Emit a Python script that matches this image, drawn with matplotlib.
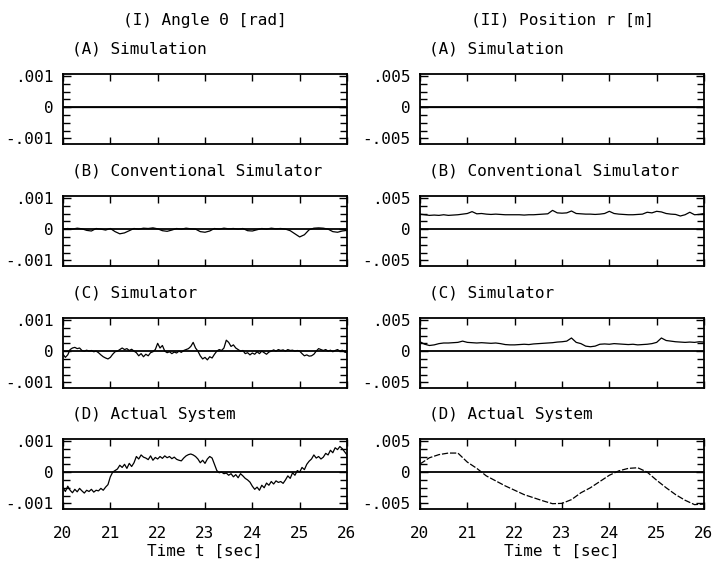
import numpy as np
import matplotlib.pyplot as plt
from matplotlib.ticker import MultipleLocator

plt.rcParams['font.family'] = ['DejaVu Sans Mono', 'DejaVu Sans']
plt.rcParams['font.size'] = 11.5

# ---- data, theta in 1e-3 rad, r in 1e-3 m ----
col_titles = ["(I) Angle \u0398 [rad]", "(II) Position r [m]"]
row_titles = ["(A) Simulation", "(B) Conventional Simulator",
              "(C) Simulator", "(D) Actual System"]
x_ticks = [20, 21, 22, 23, 24, 25, 26]
theta_ticklabels = ["-.001", "0", ".001"]
r_ticklabels = ["-.005", "0", ".005"]

# (A) simulation: identically zero
theta_sim = [0.0, 0.0]
r_sim = [0.0, 0.0]

# (B) conventional simulator, 0.1 s steps
theta_conv = [0.00, 0.02, 0.00, 0.03, 0.01, -0.04, -0.06, 0.02, 0.00, -0.03,
              0.02, -0.08, -0.15, -0.12, -0.05, 0.02, 0.00, 0.03, 0.02, 0.04,
              0.01, -0.05, -0.07, -0.03, 0.02, 0.00, 0.03, 0.01, 0.00, -0.08,
              -0.10, -0.06, 0.02, 0.00, 0.03, 0.01, 0.02, 0.00, 0.02, -0.05,
              -0.06, -0.02, 0.02, 0.00, 0.03, 0.01, 0.02, 0.00, -0.05, -0.15,
              -0.25, -0.18, -0.02, 0.03, 0.04, 0.03, 0.00, -0.08, -0.10, -0.06,
              -0.04]
r_conv = [2.4, 2.3, 2.2, 2.25, 2.2, 2.3, 2.2, 2.25, 2.3, 2.4,
          2.5, 2.8, 2.45, 2.5, 2.4, 2.35, 2.4, 2.35, 2.3, 2.3,
          2.3, 2.3, 2.25, 2.3, 2.3, 2.35, 2.4, 2.45, 3.0, 2.6,
          2.55, 2.6, 2.9, 2.5, 2.45, 2.4, 2.4, 2.35, 2.4, 2.5,
          2.85, 2.5, 2.4, 2.35, 2.3, 2.3, 2.35, 2.4, 2.7, 2.6,
          2.85, 2.75, 2.5, 2.4, 2.35, 2.1, 2.3, 2.7, 2.3, 2.35,
          2.5]

# (C) simulator, theta in 0.05 s steps, r in 0.1 s steps
theta_simr = [-0.10, -0.20, -0.12, 0.05, 0.10,
              0.12, 0.08, 0.10, 0.02, 0.00,
              0.03, 0.00, 0.02, -0.02, 0.00,
              -0.05, -0.12, -0.18, -0.22, -0.25,
              -0.20, -0.10, -0.02, 0.00, 0.05,
              0.10, 0.05, 0.08, 0.02, 0.06,
              0.00, -0.05, -0.15, -0.08, -0.18,
              -0.10, -0.15, -0.05, -0.02, 0.05,
              0.25, 0.10, 0.18, 0.00, -0.05,
              -0.02, -0.08, -0.03, -0.06, 0.00,
              -0.04, 0.02, 0.05, 0.08, 0.15,
              0.28, 0.10, 0.00, -0.15, -0.25,
              -0.20, -0.28, -0.18, -0.22, -0.10,
              0.00, 0.05, 0.02, 0.10, 0.35,
              0.28, 0.15, 0.20, 0.10, 0.05,
              0.00, 0.02, -0.08, -0.05, -0.12,
              -0.06, -0.10, -0.02, -0.08, 0.00,
              -0.05, -0.10, -0.03, 0.00, 0.04,
              0.00, 0.05, 0.02, 0.04, 0.00,
              0.05, 0.02, 0.03, 0.00, 0.02,
              0.00, -0.08, -0.15, -0.12, -0.16,
              -0.15, -0.10, 0.00, 0.08, 0.05,
              0.02, 0.05, 0.00, 0.03, -0.02,
              0.02, 0.05, 0.00, 0.03, -0.03,
              -0.05]
r_simr = [1.5, 1.1, 0.9, 1.0, 1.2, 1.3, 1.3, 1.35, 1.4, 1.6,
          1.4, 1.35, 1.3, 1.35, 1.3, 1.25, 1.3, 1.2, 1.05, 1.0,
          1.0, 1.05, 1.1, 1.05, 1.15, 1.2, 1.25, 1.3, 1.35, 1.45,
          1.5, 1.6, 2.1, 1.4, 1.2, 0.8, 0.7, 0.8, 1.1, 1.15,
          1.1, 1.2, 1.15, 1.1, 1.05, 1.1, 1.0, 1.05, 1.1, 1.2,
          1.4, 2.1, 1.7, 1.6, 1.5, 1.45, 1.4, 1.45, 1.4, 1.5,
          1.45]

# (D) actual system, theta in 0.05 s steps, r in 0.2 s steps
theta_act = [-0.50, -0.62, -0.45, -0.58, -0.66,
             -0.55, -0.63, -0.52, -0.60, -0.67,
             -0.58, -0.62, -0.55, -0.64, -0.58,
             -0.60, -0.52, -0.58, -0.48, -0.40,
             -0.15, 0.00, 0.05, 0.10, 0.22,
             0.15, 0.25, 0.12, 0.28, 0.18,
             0.30, 0.50, 0.42, 0.55, 0.48,
             0.45, 0.40, 0.52, 0.38, 0.47,
             0.42, 0.50, 0.44, 0.52, 0.46,
             0.50, 0.43, 0.48, 0.41, 0.38,
             0.36, 0.45, 0.52, 0.56, 0.58,
             0.55, 0.50, 0.42, 0.30, 0.38,
             0.28, 0.42, 0.50, 0.45, 0.25,
             0.05, -0.02, 0.00, -0.05, -0.03,
             -0.10, -0.05, -0.15, -0.08, -0.18,
             -0.05, -0.12, -0.20, -0.25, -0.32,
             -0.45, -0.55, -0.48, -0.58, -0.42,
             -0.50, -0.35, -0.42, -0.30, -0.38,
             -0.28, -0.33, -0.30, -0.36, -0.25,
             -0.12, -0.20, -0.02, -0.10, 0.05,
             0.00, 0.15, 0.08, 0.25, 0.35,
             0.42, 0.55, 0.45, 0.50, 0.42,
             0.48, 0.60, 0.55, 0.70, 0.62,
             0.78, 0.72, 0.82, 0.75, 0.65,
             0.55]
r_act = [1.3, 2.3, 2.8, 3.05, 3.05, 1.6, 0.6, -0.6, -1.4, -2.2,
         -2.9, -3.6, -4.1, -4.6, -5.05, -5.0, -4.4, -3.3, -2.5, -1.5,
         -0.5, 0.2, 0.6, 0.7, 0.0, -1.3, -2.5, -3.6, -4.5, -5.2,
         -5.1]

theta_series = [theta_sim, theta_conv, theta_simr, theta_act]
r_series = [r_sim, r_conv, r_simr, r_act]

# ---- layout in pixels of the 714x561 figure ----
W, H = 714, 561
col_x = [63, 420]
col_w = 284
row_top = [74, 196, 318, 439]
row_h = 70

fig = plt.figure(figsize=(W / 100, H / 100), dpi=100)

for c, (series, lim, labels) in enumerate([(theta_series, 0.001, theta_ticklabels),
                                           (r_series, 0.005, r_ticklabels)]):
    for r in range(4):
        ax = fig.add_axes([col_x[c] / W, 1 - (row_top[r] + row_h) / H,
                           col_w / W, row_h / H])
        vals = np.array(series[r]) * 1e-3
        t = np.linspace(20, 26, len(vals))
        ax.axhline(0, color="k", lw=1.3)
        if r == 3 and c == 1:
            ax.plot(t, vals, color="k", lw=0.9, ls=(0, (5, 1.5)))
        else:
            ax.plot(t, vals, color="k", lw=0.9)
        ax.set_xlim(20, 26)
        ax.set_ylim(-1.18 * lim, 1.06 * lim)
        ax.set_xticks(x_ticks)
        ax.set_yticks([-lim, 0, lim], labels)
        ax.yaxis.set_minor_locator(MultipleLocator(lim / 4))
        ax.tick_params(which="both", direction="in", top=True, right=True,
                       width=1, color="k")
        ax.tick_params(axis="y", which="major", length=6, pad=7)
        ax.tick_params(axis="y", which="minor", length=5)
        ax.tick_params(axis="x", which="major", length=5, pad=12)
        if r < 3:
            ax.tick_params(labelbottom=False)
        else:
            ax.set_xlabel("Time t [sec]", labelpad=2)
        for s in ax.spines.values():
            s.set_linewidth(1.3)
        ax.text(9 / col_w, 1 + 25 / row_h, row_titles[r], transform=ax.transAxes,
                ha="left", va="center")
    fig.text((col_x[c] + col_w / 2) / W, 1 - 20 / H, col_titles[c],
             ha="center", va="center")

fig.savefig("out.png", dpi=100)
